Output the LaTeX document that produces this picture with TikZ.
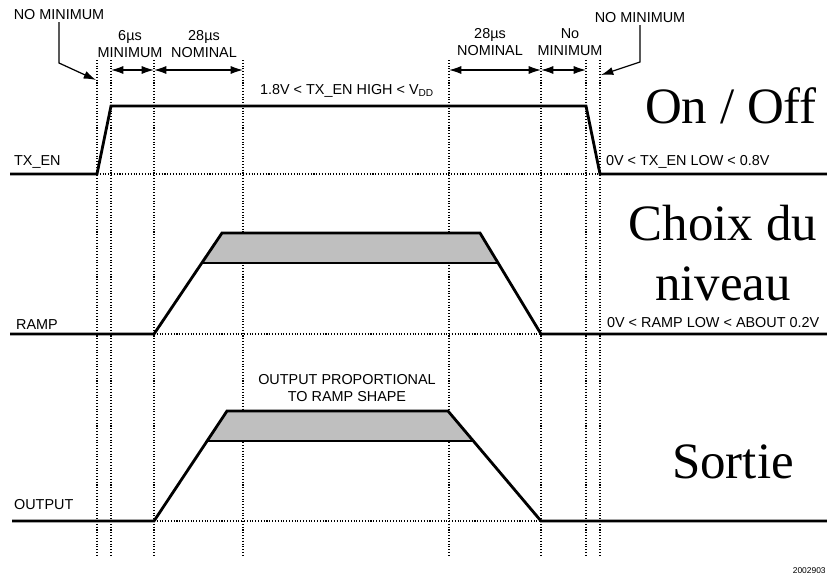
\documentclass[tikz,border=0pt]{standalone}
\usepackage{fontspec}
\setmainfont{Liberation Sans}
\newfontfamily\titlefont{Liberation Serif}
\usetikzlibrary{arrows.meta}

\tikzset{
  signal/.style={line width=1.6pt, line join=miter},
  timing/.style={densely dotted, line width=0.6pt},
  dim/.style={{Latex[length=7pt,width=4.6pt]}-{Latex[length=7pt,width=4.6pt]}, line width=0.7pt},
  callout/.style={-{Latex[length=7pt,width=4.6pt]}, line width=0.7pt},
  lbl/.style={font=\fontsize{8.2}{9.7}\selectfont, inner sep=1pt, align=center},
  big/.style={font=\titlefont\fontsize{29}{34}\selectfont, anchor=base, inner sep=0pt},
}

\begin{document}
\begin{tikzpicture}[x=0.02cm,y=-0.02cm]
    \useasboundingbox (0,0) rectangle (827,575);

    % timing marks
    \foreach \t/\x in {a/97,b/111,c/154,d/243,e/449,f/541,g/586,h/600}{
        \coordinate (\t) at (\x,60);
        \draw[timing] (\t) -- (\x,555);
    }

    % TX_EN
    \draw[timing] (97,174) -- (600,174);
    \draw[signal] (10,174) -- (97,174) -- (111,106) -- (586,106) -- (600,174) -- (827,174);

    % RAMP
    \fill[black!25] (202,263) -- (222,233) -- (480,233) -- (497,263) -- cycle;
    \draw[timing] (154,334) -- (541,334);
    \draw[signal] (10,334) -- (154,334) -- (222,233) -- (480,233) -- (541,334) -- (827,334);
    \draw[signal, line width=1.3pt] (202,263) -- (497,263);

    % OUTPUT
    \fill[black!25] (207,441) -- (227,411) -- (448,411) -- (473,441) -- cycle;
    \draw[timing] (154,521) -- (541,521);
    \draw[signal] (12,521) -- (154,521) -- (227,411) -- (448,411) -- (541,521) -- (827,521);
    \draw[signal, line width=1.3pt] (207,441) -- (473,441);

    % labels
    \node[lbl, anchor=west] (txen) at (12,162) {TX\_EN};
    \node[lbl, anchor=west] (txhigh) at (258,91) {1.8V < TX\_EN HIGH < V\textsubscript{DD}};
    \node[lbl, anchor=west] (txlow) at (604,162) {0V < TX\_EN LOW < 0.8V};
    \node[lbl, anchor=west] (ramp) at (14,325) {RAMP};
    \node[lbl, anchor=west] (ramplow) at (605,323) {0V < RAMP LOW < ABOUT 0.2V};
    \node[lbl, anchor=west] (output) at (12,505) {OUTPUT};
    \node[lbl] (outprop) at (347,388) {OUTPUT PROPORTIONAL\\TO RAMP SHAPE};

    \node[lbl] (nominl) at (59,15) {NO MINIMUM};
    \node[lbl] (sixus) at (130,44) {6µs\\MINIMUM};
    \node[lbl] (nomla) at (204,44) {28µs\\NOMINAL};
    \node[lbl] (nomlb) at (490,42) {28µs\\NOMINAL};
    \node[lbl] (nominb) at (570,42) {No\\MINIMUM};
    \node[lbl] (nominr) at (640,18) {NO MINIMUM};

    \draw[callout] (nominl.south) -- (nominl.south |- 0,63) -- (96,80);
    \draw[callout] (nominr.south) -- (nominr.south |- 0,62) -- (601,75);

    \draw[dim] (b |- 0,70) -- (c |- 0,70);
    \draw[dim] (c |- 0,70) -- (d |- 0,70);
    \draw[dim] (e |- 0,70) -- (f |- 0,70);
    \draw[dim] (f |- 0,70) -- (g |- 0,70);

    % big titles
    \node[big] (onoff) at (731,123) {On / Off};
    \node[big] (choix) at (723,240) {Choix du};
    \node[big] (niveau) at (723,300) {niveau};
    \node[big] (sortie) at (733,478) {Sortie};

    \node[font=\fontsize{4.8}{5}\selectfont, anchor=east, inner sep=0pt] (figno) at (826,571) {2002903};
\end{tikzpicture}
\end{document}
